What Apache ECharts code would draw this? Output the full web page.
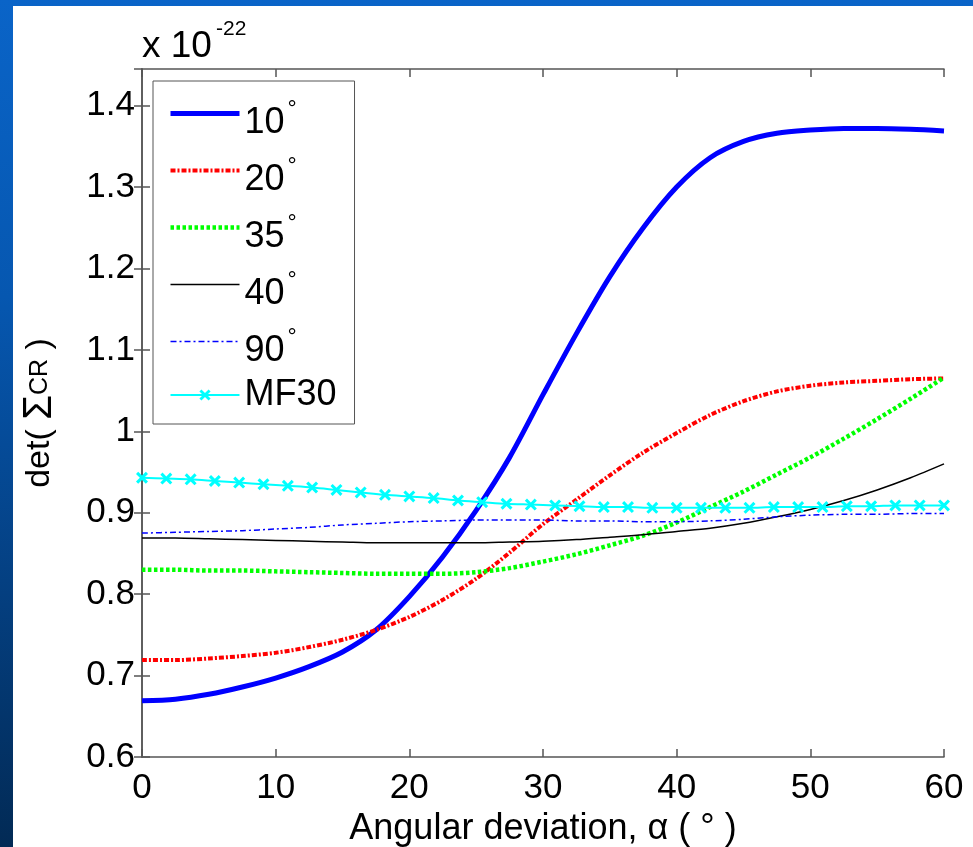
<!DOCTYPE html>
<html><head><meta charset="utf-8">
<script src="https://cdn.jsdelivr.net/npm/echarts@6/dist/echarts.min.js"></script>
<style>
html,body{margin:0;padding:0;width:973px;height:847px;overflow:hidden;
background:linear-gradient(180deg,#0a64c8 0%,#0657b0 35%,#043f80 70%,#022a55 100%);}
#c{position:absolute;left:13px;top:6px;width:960px;height:841px;background:#fff;}
</style></head><body><div id="c"></div>
<script>
// x values (degrees) for the analytic curves
const angles = [0,2.5,5,7.5,10,12.5,15,17.5,20,22.5,25,27.5,30,32.5,35,37.5,40,42.5,45,47.5,50,52.5,55,57.5,60];
const deg10 = [0.669,0.671,0.677,0.686,0.697,0.711,0.729,0.756,0.797,0.846,0.903,0.968,1.045,1.120,1.190,1.250,1.300,1.336,1.356,1.366,1.370,1.372,1.372,1.371,1.369];
const deg20 = [0.719,0.719,0.721,0.724,0.728,0.735,0.744,0.756,0.772,0.793,0.819,0.851,0.886,0.916,0.946,0.974,0.998,1.020,1.037,1.049,1.056,1.060,1.062,1.064,1.065];
const deg35 = [0.830,0.830,0.829,0.829,0.828,0.827,0.826,0.825,0.825,0.825,0.827,0.832,0.840,0.849,0.860,0.872,0.888,0.907,0.926,0.947,0.968,0.991,1.015,1.040,1.066];
const deg40 = [0.869,0.869,0.868,0.867,0.866,0.865,0.864,0.863,0.863,0.863,0.863,0.864,0.865,0.867,0.870,0.873,0.877,0.881,0.887,0.895,0.904,0.915,0.928,0.943,0.960];
const deg90 = [0.875,0.876,0.877,0.878,0.880,0.882,0.885,0.887,0.889,0.890,0.891,0.891,0.891,0.890,0.890,0.889,0.889,0.890,0.892,0.895,0.897,0.898,0.898,0.899,0.899];
// MF30 sample positions and values
const mfAngles = [0,1.82,3.64,5.45,7.27,9.09,10.91,12.73,14.55,16.36,18.18,20.00,21.82,23.64,25.45,27.27,29.09,30.91,32.73,34.55,36.36,38.18,40.00,41.82,43.64,45.45,47.27,49.09,50.91,52.73,54.55,56.36,58.18,60];
const mf30 = [0.943,0.942,0.941,0.939,0.937,0.935,0.933,0.931,0.928,0.925,0.922,0.920,0.918,0.915,0.913,0.911,0.910,0.909,0.908,0.907,0.907,0.906,0.906,0.906,0.906,0.906,0.907,0.907,0.907,0.908,0.908,0.909,0.909,0.909];
const seriesNames = ['10°','20°','35°','40°','90°','MF30'];
const xTicks = {min:0, max:60, interval:10};
const yTicks = {min:0.6, max:1.445, interval:0.1};

const FONT = '"Liberation Sans", Arial, sans-serif';
const pair = (xs, ys) => xs.map((x, i) => [x, ys[i]]);
const chart = echarts.init(document.getElementById('c'), null, {renderer:'canvas'});

const axisLineStyle = {color:'#555', width:1.5};
const XMARK = 'path://M0,1.8L1.8,0L5,3.2L8.2,0L10,1.8L6.8,5L10,8.2L8.2,10L5,6.8L1.8,10L0,8.2L3.2,5Z';
const baseLine = (name, data, color, width, type) => ({
  name, type:'line', data, smooth:0.3, symbol:'none',
  lineStyle:{color, width, type, cap:'butt'}, itemStyle:{color}, z:3
});

chart.setOption({
  animation:false,
  backgroundColor:'#fff',
  textStyle:{fontFamily:FONT},
  grid:{left:129, top:63, right:29, bottom:90, containLabel:false, outerBoundsMode:'none'},
  graphic:[
    {type:'text', left:129, top:22, style:{text:'x 10', fontSize:37, fontFamily:FONT, fill:'#000'}},
    {type:'text', left:203, top:13, style:{text:'-22', fontSize:21, fontFamily:FONT, fill:'#000'}}
  ],
  legend:{
    orient:'vertical', left:140, top:75,
    padding:[5,18,5,15], itemGap:2, itemWidth:69, itemHeight:14,
    backgroundColor:'#fff', borderColor:'#555', borderWidth:1, borderRadius:0,
    lineStyle:{width:'inherit'},
    data:seriesNames.map(n => n === 'MF30'
      ? {name:n}
      : {name:n, itemStyle:{opacity:0}}),
    formatter: n => n === 'MF30' ? '{m|MF30}' : '{n|' + n.replace('°','') + '}{d|°}',
    textStyle:{rich:{
      n:{fontSize:36, fontFamily:FONT, color:'#000', lineHeight:42, padding:[19,0,0,0]},
      m:{fontSize:36, fontFamily:FONT, color:'#000', lineHeight:42, padding:[6,0,6,0]},
      d:{fontSize:23, fontFamily:FONT, color:'#000', verticalAlign:'top', lineHeight:40, padding:[6,0,0,3]}
    }}
  },
  xAxis:[{
    type:'value', min:xTicks.min, max:xTicks.max, interval:xTicks.interval,
    name:'Angular deviation, α ( ° )', nameLocation:'middle', nameGap:48,
    nameTextStyle:{fontSize:36, color:'#000', fontFamily:FONT},
    axisLine:{show:true, lineStyle:axisLineStyle},
    axisTick:{show:true, inside:true, length:8, lineStyle:axisLineStyle},
    axisLabel:{fontSize:35, color:'#000', margin:14, fontFamily:FONT},
    splitLine:{show:false}
  },{
    type:'value', position:'top', min:xTicks.min, max:xTicks.max, interval:xTicks.interval,
    axisLine:{show:true, lineStyle:axisLineStyle},
    axisTick:{show:true, inside:true, length:8, lineStyle:axisLineStyle},
    axisLabel:{show:false}, splitLine:{show:false}
  }],
  yAxis:[{
    type:'value', min:yTicks.min, max:yTicks.max, interval:yTicks.interval,
    name:'{a|det( }{g|Σ}{s|CR}{a| )}', nameLocation:'middle', nameGap:82,
    nameTextStyle:{rich:{
      a:{fontSize:34, fontFamily:FONT, color:'#000'},
      g:{fontSize:40, fontFamily:FONT, color:'#000'},
      s:{fontSize:25, fontFamily:FONT, color:'#000'}
    }},
    axisLine:{show:true, lineStyle:axisLineStyle},
    axisTick:{show:true, inside:true, length:8, lineStyle:axisLineStyle},
    axisLabel:{fontSize:35, color:'#000', margin:7, fontFamily:FONT, showMaxLabel:false,
      formatter: v => String(Math.round(v*10)/10)},
    splitLine:{show:false}
  },{
    type:'value', position:'right', min:yTicks.min, max:yTicks.max, interval:yTicks.interval,
    axisLine:{show:true, lineStyle:axisLineStyle},
    axisTick:{show:true, inside:true, length:8, lineStyle:axisLineStyle},
    axisLabel:{show:false}, splitLine:{show:false}
  }],
  series:[
    baseLine(seriesNames[0], pair(angles, deg10), '#0000ff', 5, 'solid'),
    baseLine(seriesNames[1], pair(angles, deg20), '#ff0000', 4, [5,2,2,2]),
    baseLine(seriesNames[2], pair(angles, deg35), '#00ff00', 4.5, [3.5,2.5]),
    baseLine(seriesNames[3], pair(angles, deg40), '#000000', 1.5, 'solid'),
    baseLine(seriesNames[4], pair(angles, deg90), '#0000ff', 1.5, [6,3,2,3]),
    {
      name:seriesNames[5], type:'line', data:pair(mfAngles, mf30), smooth:0.3,
      symbol:XMARK, symbolSize:12, showSymbol:true,
      lineStyle:{color:'#00ffff', width:2}, itemStyle:{color:'#00ffff'}, z:4
    }
  ]
});
</script></body></html>
